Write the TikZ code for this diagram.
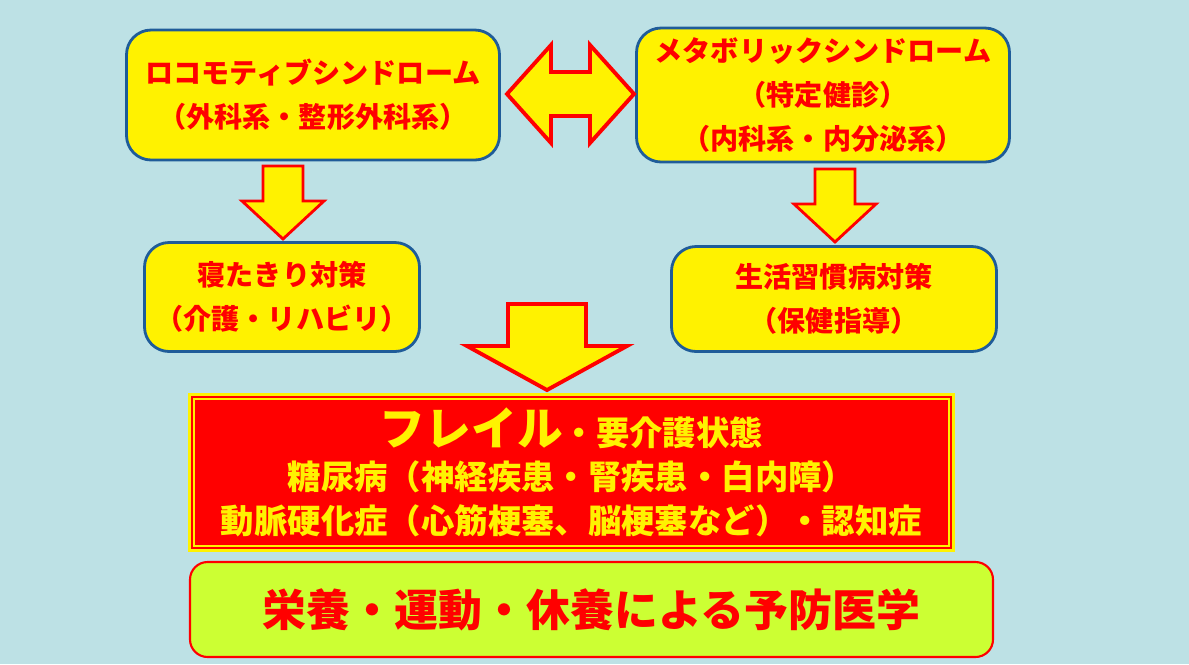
\documentclass[tikz,border=0pt]{standalone}
\usepackage{fontspec}
\setmainfont{Noto Sans CJK JP}
\usetikzlibrary{positioning}
\definecolor{bgblue}{HTML}{BDE1E5}
\definecolor{edgeblue}{HTML}{1F5C99}
\definecolor{lime}{HTML}{CCFF33}
\tikzset{
  box/.style={draw=edgeblue, line width=1.6pt, fill=yellow, rounded corners=14pt,
    text=red, font=\bfseries\fontsize{16}{25}\selectfont, align=center, inner sep=0pt},
  arr/.style={draw=red, fill=yellow, line width=2.2pt, line join=miter}
}
\begin{document}
\begin{tikzpicture}[x=0.02cm, y=-0.02cm]
\fill[bgblue] (0,0) rectangle (1189,664);
\useasboundingbox (0,0) rectangle (1189,664);
% Blocos
\node[box, minimum width=373*0.02cm, minimum height=130*0.02cm] (loco) at (313,95) {ロコモティブシンドローム\\（外科系・整形外科系）};
\node[box, minimum width=373*0.02cm, minimum height=134*0.02cm] (meta) at (823,95) {メタボリックシンドローム\\（特定健診）\\（内科系・内分泌系）};
\node[box, minimum width=275*0.02cm, minimum height=109*0.02cm] (bed) at (282,297) {寝たきり対策\\（介護・リハビリ）};
\node[box, minimum width=325*0.02cm, minimum height=105*0.02cm] (life) at (834,299) {生活習慣病対策\\（保健指導）};
% Fraile
\fill[yellow] (188,393) rectangle (955,552);
\draw[red, line width=1pt] (192,397) rectangle (951,548);
\node[fill=red, minimum width=753*0.02cm, minimum height=145*0.02cm, inner sep=0pt,
  text=yellow, font=\bfseries\fontsize{19}{25}\selectfont, align=center] (frail) at (571.5,472.5)
  {{\fontsize{26}{28}\selectfont フレイル}・要介護状態\\糖尿病（神経疾患・腎疾患・白内障）\\動脈硬化症（心筋梗塞、脳梗塞など）・認知症};
\node[draw=red, line width=1.2pt, fill=lime, rounded corners=10pt, minimum width=803*0.02cm,
  minimum height=95*0.02cm, text=red, font=\bfseries\fontsize{25}{28}\selectfont] (prev) at (591.5,609.5)
  {栄養・運動・休養による予防医学};
% Setas
\draw[arr] (507,94) -- (551,45) -- (551,72) -- (590,72) -- (590,45) -- (634,94)
  -- (590,143) -- (590,116) -- (551,116) -- (551,143) -- cycle;
\foreach \cx/\cy in {283/166, 835/169}
  \draw[arr, line width=1.6pt] (\cx-20,\cy) -- (\cx+20,\cy) -- (\cx+20,\cy+35) -- (\cx+41,\cy+35)
    -- (\cx,\cy+73) -- (\cx-41,\cy+35) -- (\cx-20,\cy+35) -- cycle;
\draw[arr] (508,304) -- (586,304) -- (586,346) -- (627,346) -- (547,390) -- (467,346)
  -- (508,346) -- cycle;
\end{tikzpicture}
\end{document}
